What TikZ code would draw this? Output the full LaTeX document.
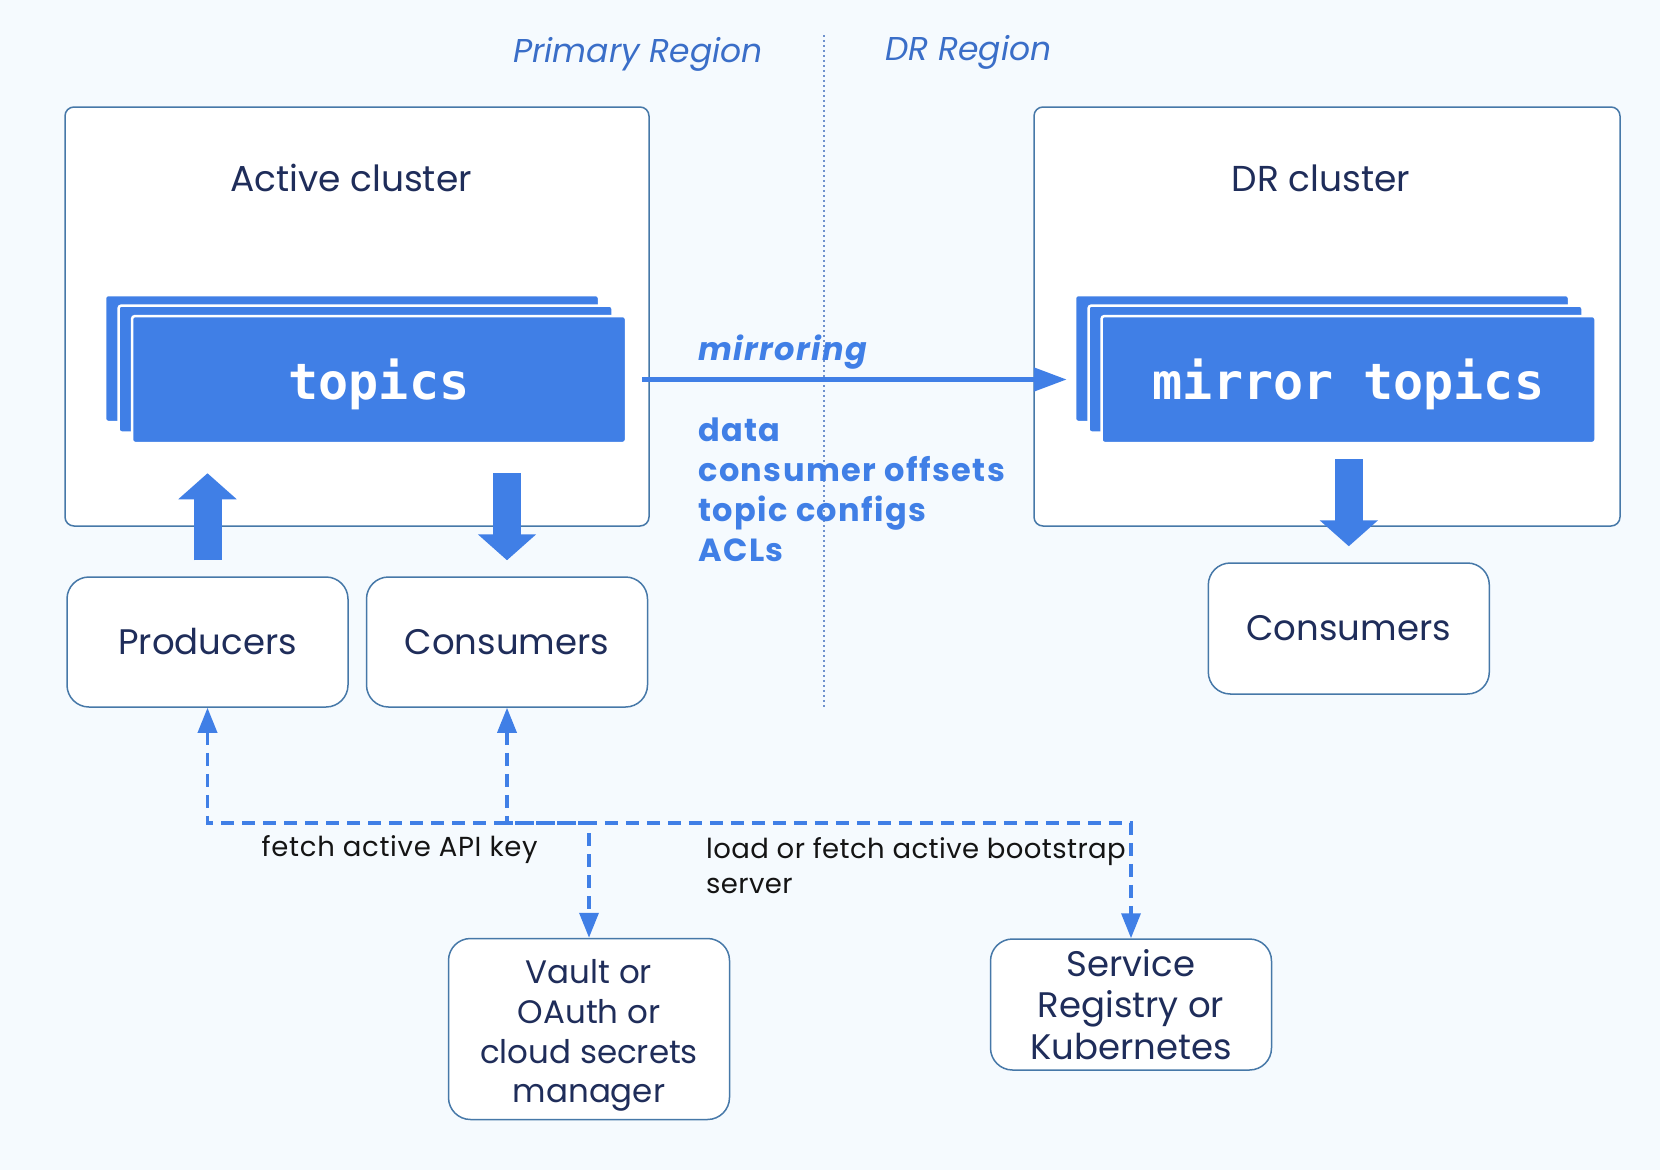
\documentclass[tikz,border=0pt]{standalone}
\usepackage{fontspec}
\setmainfont{Poppins}
\newfontfamily\monofont{DejaVu Sans Mono}
\usetikzlibrary{arrows.meta}
\definecolor{bg}{RGB}{245,250,254}
\definecolor{kblue}{RGB}{64,127,230}
\definecolor{navy}{RGB}{31,45,90}
\definecolor{boxline}{RGB}{70,120,168}
\definecolor{regioncol}{RGB}{58,110,200}
\definecolor{dotcol}{RGB}{110,145,205}
\definecolor{labelcol}{RGB}{20,20,20}
\begin{document}
\begin{tikzpicture}[x=1pt,y=-1pt,
  cluster/.style={draw=boxline, line width=1.5pt, fill=white, rounded corners=9pt, inner sep=0pt},
  clustertitle/.style={font=\fontsize{36}{42}\selectfont, text=navy, anchor=base, inner sep=0pt},
  box/.style={draw=boxline, line width=1.5pt, fill=white, rounded corners=22pt, inner sep=0pt,
    font=\fontsize{35.5}{41.7}\selectfont, text=navy, align=center, minimum width=281pt},
  boxtext/.style={font=\fontsize{32.5}{39.7}\selectfont, text=navy, align=center, inner sep=0pt},
  layer/.style={fill=kblue, draw=white, line width=2.5pt, rounded corners=3pt, inner sep=0pt,
    minimum width=494pt, minimum height=127pt},
  layertext/.style={text=white, font=\monofont\bfseries\fontsize{50}{50}\selectfont, text depth=0pt},
  fatarrow/.style={draw=kblue, line width=28pt, -{Triangle[length=26pt,width=57pt]}},
  dasharrow/.style={draw=kblue, line width=3.5pt, dash pattern=on 13pt off 8pt,
    {Triangle[length=25pt,width=19pt]}-{Triangle[length=25pt,width=19pt]}},
  mirrorarrow/.style={draw=kblue, line width=5pt, -{Triangle[length=33pt,width=23pt]}},
  region/.style={font=\itshape\fontsize{33}{38}\selectfont, text=regioncol, anchor=base west, inner sep=0pt},
  mirrortext/.style={font=\bfseries\fontsize{32}{36}\selectfont\addfontfeature{LetterSpace=4.5}, text=kblue, anchor=base west, inner sep=0pt},
  lbl/.style={font=\fontsize{27.5}{32}\selectfont\addfontfeature{LetterSpace=2.5}, text=labelcol, anchor=base west, inner sep=0pt},
  lbltwo/.style={lbl, font=\fontsize{27.5}{32}\selectfont\addfontfeature{LetterSpace=1.5}}
]
\fill[bg] (0,0) rectangle (1660,1170);
\useasboundingbox (0,0) rectangle (1660,1170);

% region divider
\coordinate (divtop) at (824,35);
\coordinate (divbot) at (824,707);
\draw[dotcol, line width=1.5pt, dash pattern=on 1.5pt off 3.5pt] (divtop) -- (divbot);
\node[region] (primreg) at (513,62.5) {Primary Region};
\node[region] (drreg) at (885,60.5) {DR Region};

% clusters
\node[cluster, minimum width=584pt, minimum height=419pt] (active) at (357,316.5) {};
\node[cluster, minimum width=586pt, minimum height=419pt] (dr) at (1327,316.5) {};
\node[clustertitle] (activet) at (351,191.7) {Active cluster};
\node[clustertitle] (drt) at (1321,191.7) {DR cluster};

% topic stacks
\node[layer] (tback) at (352,358.5) {};
\node[layer] (tmid) at (365.5,369) {};
\node[layer] (topics) at (379,379.5) {};
\node[layertext] (topicst) at (topics.center) {topics};

\node[layer] (mback) at (1322,358.5) {};
\node[layer] (mmid) at (1335.5,369) {};
\node[layer] (mirror) at (1348.5,379.5) {};
\node[layertext] (mirrort) at (mirror.center) {mirror topics};

% boxes
\node[box, minimum height=130pt] (prod) at (207.5,642) {Producers};
\node[box, minimum height=130pt] (cons) at (507,642) {Consumers};
\node[box, minimum height=131pt] (drcons) at (1348.8,628.5) {Consumers};
\node[box, minimum height=181pt] (vault) at (589,1029) {};
\node[boxtext] (vaultt) at ([yshift=-6.5pt]vault.center) {Vault or\\OAuth or\\cloud secrets\\manager};
\node[box, minimum height=131pt] (sreg) at (1131,1004.5) {Service\\Registry or\\Kubernetes};

% fat arrows
\draw[fatarrow, shorten <=16pt, shorten >=29pt] (prod.north) -- (prod.north |- topics.south);
\draw[fatarrow, shorten <=29pt, shorten >=16pt] (cons.north |- topics.south) -- (cons.north);
\draw[fatarrow, shorten <=15pt, shorten >=16pt] (drcons.north |- mirror.south) -- (drcons.north);

% mirroring
\draw[mirrorarrow, shorten <=15pt, shorten >=7pt] (topics.east) -- (topics.east -| mback.west);
\node[mirrortext, font=\bfseries\itshape\fontsize{32}{36}\selectfont\addfontfeature{LetterSpace=4.5}] (mirroring) at (698,360) {mirroring};
\node[mirrortext] (d1) at (698,441.7) {data};
\node[mirrortext] (d2) at (698,481.7) {consumer offsets};
\node[mirrortext] (d3) at (698,521.7) {topic configs};
\node[mirrortext] (d4) at (698,561.7) {ACLs};

% dashed connectors
\coordinate (bus) at (0,823);
\draw[dasharrow] (prod.south) -- (prod.south |- bus) -| (vault.north);
\draw[dasharrow] (cons.south) -- (cons.south |- bus) -| (sreg.north);
\node[lbl] (l1) at (261.5,856.7) {fetch active API key};
\node[lbltwo] (l2) at (706,858) {load or fetch active bootstrap};
\node[lbltwo] (l3) at (706,893.3) {server};
\end{tikzpicture}
\end{document}
